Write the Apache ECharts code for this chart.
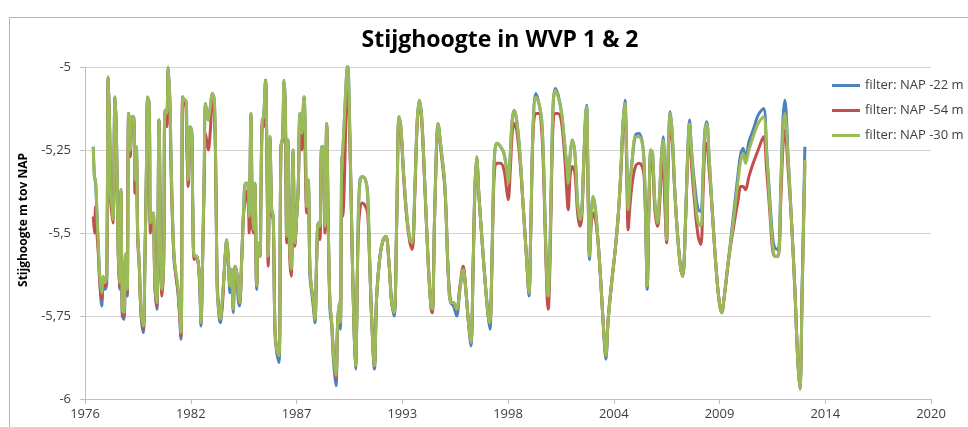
<!DOCTYPE html>
<html>
<head>
<meta charset="utf-8">
<script src="https://cdn.jsdelivr.net/npm/echarts@6/dist/echarts.min.js"></script>
<style>
  html, body { margin: 0; padding: 0; background: #ffffff; }
  #chart { width: 968px; height: 427px; }
</style>
</head>
<body>
<div id="chart"></div>
<script>
// Measurement dates (decimal years), shared by the three filters
const dates = [
  1976.43,1976.49,1976.55,1976.62,1976.69,1976.76,1976.87,1976.95,1977.04,1977.13,
  1977.21,1977.28,1977.33,1977.39,1977.46,1977.56,1977.63,1977.72,1977.79,1977.87,
  1977.94,1978.03,1978.10,1978.17,1978.20,1978.27,1978.36,1978.43,1978.53,1978.60,
  1978.67,1978.74,1978.82,1978.91,1979.03,1979.12,1979.19,1979.26,1979.34,1979.40,
  1979.48,1979.55,1979.64,1979.74,1979.85,1979.93,1980.00,1980.09,1980.16,1980.25,
  1980.33,1980.42,1980.47,1980.54,1980.63,1980.71,1980.85,1980.99,1981.08,1981.16,
  1981.25,1981.30,1981.37,1981.46,1981.55,1981.60,1981.68,1981.79,1981.89,1981.98,
  1982.03,1982.12,1982.20,1982.27,1982.41,1982.52,1982.62,1982.73,1982.81,1982.88,
  1982.97,1983.04,1983.14,1983.25,1983.37,1983.45,1983.54,1983.63,1983.71,1983.80,
  1983.89,1983.97,1984.04,1984.15,1984.25,1984.35,1984.46,1984.54,1984.63,1984.70,
  1984.77,1984.84,1984.93,1985.01,1985.10,1985.15,1985.22,1985.29,1985.39,1985.46,
  1985.53,1985.62,1985.71,1985.79,1985.88,1985.97,1986.09,1986.19,1986.28,1986.35,
  1986.42,1986.49,1986.56,1986.64,1986.73,1986.82,1986.92,1987.01,1987.09,1987.18,
  1987.27,1987.39,1987.46,1987.53,1987.61,1987.70,1987.79,1987.87,1987.96,1988.05,
  1988.13,1988.22,1988.31,1988.39,1988.48,1988.57,1988.65,1988.74,1988.83,1988.93,
  1989.05,1989.14,1989.21,1989.28,1989.35,1989.40,1989.66,1989.78,1989.90,1990.01,
  1990.07,1990.21,1990.30,1990.42,1990.59,1990.70,1990.80,1990.91,1991.05,1991.17,
  1991.34,1991.51,1991.65,1991.81,1991.95,1992.08,1992.21,1992.33,1992.43,1992.57,
  1992.74,1992.90,1993.02,1993.16,1993.28,1993.39,1993.51,1993.68,1993.85,1993.99,
  1994.06,1994.20,1994.37,1994.51,1994.72,1994.89,1995.03,1995.17,1995.33,1995.50,
  1995.67,1995.79,1995.93,1996.07,1996.19,1996.28,1996.37,1996.49,1996.66,1996.83,
  1996.97,1997.06,1997.15,1997.23,1997.32,1997.44,1997.61,1997.79,1997.93,1998.01,
  1998.12,1998.22,1998.32,1998.45,1998.62,1998.79,1998.97,1999.09,1999.19,1999.31,
  1999.45,1999.61,1999.75,1999.85,1999.94,2000.04,2000.09,2000.18,2000.27,2000.35,
  2000.46,2000.61,2000.79,2000.96,2001.06,2001.13,2001.24,2001.34,2001.48,2001.62,
  2001.74,2001.83,2001.93,2002.03,2002.09,2002.17,2002.24,2002.33,2002.43,2002.55,
  2002.69,2002.83,2002.95,2003.09,2003.21,2003.39,2003.56,2003.73,2003.87,2003.98,
  2004.08,2004.17,2004.25,2004.34,2004.46,2004.63,2004.81,2004.98,2005.08,2005.17,
  2005.24,2005.33,2005.43,2005.52,2005.64,2005.78,2005.90,2005.99,2006.07,2006.16,
  2006.25,2006.33,2006.44,2006.54,2006.68,2006.85,2006.99,2007.09,2007.23,2007.34,
  2007.44,2007.55,2007.72,2007.89,2008.03,2008.15,2008.24,2008.34,2008.45,2008.62,
  2008.79,2008.97,2009.11,2009.25,2009.45,2009.71,2009.97,2010.11,2010.23,2010.35,
  2010.53,2010.75,2011.01,2011.29,2011.45,2011.62,2011.76,2011.88,2012.05,2012.19,
  2012.30,2012.40,2012.57,2012.75,2012.92,2013.06,2013.18,2013.30,2013.44
];

// Stijghoogte (m t.o.v. NAP), filter NAP -22 m
const filter22 = [
  -5.24,-5.33,-5.35,-5.44,-5.54,-5.63,-5.72,-5.66,-5.67,-5.65,
  -5.03,-5.18,-5.39,-5.41,-5.46,-5.09,-5.19,-5.53,-5.67,-5.37,
  -5.75,-5.76,-5.57,-5.56,-5.69,-5.14,-5.25,-5.15,-5.15,-5.34,
  -5.24,-5.50,-5.59,-5.74,-5.80,-5.57,-5.33,-5.09,-5.11,-5.47,
  -5.45,-5.44,-5.66,-5.73,-5.16,-5.53,-5.67,-5.59,-5.13,-5.14,
  -5.00,-5.11,-5.26,-5.43,-5.58,-5.62,-5.69,-5.82,-5.09,-5.10,
  -5.10,-5.21,-5.34,-5.18,-5.19,-5.40,-5.57,-5.57,-5.59,-5.68,
  -5.78,-5.57,-5.31,-5.11,-5.16,-5.12,-5.08,-5.10,-5.36,-5.67,
  -5.75,-5.77,-5.71,-5.61,-5.52,-5.57,-5.68,-5.61,-5.74,-5.60,
  -5.62,-5.70,-5.72,-5.58,-5.43,-5.35,-5.35,-5.45,-5.14,-5.42,
  -5.49,-5.35,-5.67,-5.53,-5.57,-5.39,-5.16,-5.15,-5.04,-5.26,
  -5.57,-5.21,-5.43,-5.45,-5.80,-5.86,-5.89,-5.24,-5.21,-5.04,
  -5.12,-5.51,-5.22,-5.53,-5.61,-5.25,-5.53,-5.45,-5.36,-5.14,
  -5.20,-5.09,-5.21,-5.42,-5.34,-5.63,-5.68,-5.72,-5.77,-5.57,
  -5.47,-5.48,-5.24,-5.24,-5.48,-5.17,-5.47,-5.73,-5.78,-5.89,
  -5.96,-5.77,-5.72,-5.79,-5.28,-5.26,-4.995,-5.21,-5.57,-5.82,
  -5.91,-5.46,-5.34,-5.33,-5.34,-5.38,-5.57,-5.76,-5.91,-5.69,
  -5.57,-5.52,-5.51,-5.59,-5.71,-5.75,-5.47,-5.15,-5.18,-5.32,
  -5.45,-5.52,-5.54,-5.36,-5.16,-5.10,-5.15,-5.36,-5.59,-5.72,
  -5.74,-5.41,-5.17,-5.24,-5.36,-5.62,-5.71,-5.72,-5.75,-5.67,
  -5.61,-5.66,-5.76,-5.84,-5.59,-5.36,-5.27,-5.39,-5.53,-5.66,
  -5.75,-5.79,-5.63,-5.39,-5.25,-5.23,-5.24,-5.26,-5.31,-5.34,
  -5.26,-5.16,-5.13,-5.16,-5.26,-5.42,-5.58,-5.69,-5.47,-5.17,
  -5.08,-5.11,-5.16,-5.29,-5.49,-5.67,-5.69,-5.56,-5.29,-5.11,
  -5.065,-5.085,-5.14,-5.24,-5.30,-5.35,-5.26,-5.22,-5.26,-5.41,
  -5.46,-5.44,-5.30,-5.15,-5.115,-5.39,-5.58,-5.45,-5.39,-5.43,
  -5.53,-5.65,-5.77,-5.88,-5.76,-5.65,-5.56,-5.45,-5.31,-5.17,
  -5.10,-5.26,-5.43,-5.36,-5.28,-5.205,-5.20,-5.225,-5.29,-5.49,
  -5.67,-5.42,-5.25,-5.26,-5.41,-5.47,-5.36,-5.26,-5.21,-5.34,
  -5.52,-5.26,-5.135,-5.20,-5.38,-5.53,-5.61,-5.63,-5.47,-5.27,
  -5.16,-5.255,-5.36,-5.43,-5.435,-5.31,-5.19,-5.165,-5.26,-5.43,
  -5.58,-5.70,-5.74,-5.69,-5.59,-5.455,-5.32,-5.26,-5.245,-5.28,
  -5.225,-5.19,-5.145,-5.125,-5.25,-5.40,-5.51,-5.545,-5.55,-5.35,
  -5.16,-5.10,-5.27,-5.47,-5.67,-5.87,-5.97,-5.66,-5.24
];

// Stijghoogte (m t.o.v. NAP), filter NAP -54 m
const filter54 = [
  -5.45,-5.50,-5.42,-5.50,-5.56,-5.64,-5.70,-5.64,-5.66,-5.63,
  -5.03,-5.19,-5.40,-5.44,-5.47,-5.09,-5.20,-5.54,-5.66,-5.38,
  -5.74,-5.75,-5.58,-5.57,-5.68,-5.14,-5.27,-5.16,-5.16,-5.38,
  -5.26,-5.52,-5.60,-5.74,-5.79,-5.57,-5.34,-5.10,-5.12,-5.50,
  -5.47,-5.45,-5.67,-5.72,-5.16,-5.54,-5.69,-5.59,-5.14,-5.18,
  -5.01,-5.13,-5.30,-5.45,-5.57,-5.62,-5.68,-5.81,-5.09,-5.11,
  -5.12,-5.25,-5.36,-5.19,-5.20,-5.41,-5.58,-5.57,-5.59,-5.67,
  -5.77,-5.57,-5.35,-5.20,-5.25,-5.19,-5.10,-5.14,-5.37,-5.66,
  -5.73,-5.76,-5.72,-5.61,-5.53,-5.58,-5.66,-5.62,-5.73,-5.60,
  -5.62,-5.68,-5.71,-5.58,-5.44,-5.40,-5.37,-5.50,-5.15,-5.48,
  -5.50,-5.36,-5.66,-5.54,-5.57,-5.40,-5.17,-5.18,-5.04,-5.28,
  -5.60,-5.22,-5.44,-5.46,-5.79,-5.85,-5.87,-5.24,-5.22,-5.05,
  -5.16,-5.53,-5.23,-5.56,-5.63,-5.26,-5.54,-5.45,-5.37,-5.15,
  -5.25,-5.09,-5.30,-5.44,-5.35,-5.61,-5.67,-5.70,-5.76,-5.58,
  -5.47,-5.52,-5.25,-5.25,-5.50,-5.18,-5.48,-5.71,-5.77,-5.87,
  -5.94,-5.77,-5.74,-5.77,-5.40,-5.45,-5.04,-5.24,-5.57,-5.82,
  -5.90,-5.50,-5.43,-5.41,-5.42,-5.44,-5.58,-5.76,-5.90,-5.69,
  -5.57,-5.52,-5.51,-5.59,-5.71,-5.74,-5.47,-5.16,-5.19,-5.33,
  -5.46,-5.53,-5.55,-5.37,-5.17,-5.11,-5.16,-5.37,-5.59,-5.72,
  -5.74,-5.41,-5.18,-5.25,-5.37,-5.62,-5.71,-5.71,-5.73,-5.66,
  -5.60,-5.66,-5.76,-5.83,-5.59,-5.37,-5.28,-5.39,-5.53,-5.66,
  -5.75,-5.77,-5.63,-5.41,-5.30,-5.29,-5.29,-5.31,-5.37,-5.40,
  -5.31,-5.20,-5.17,-5.19,-5.28,-5.42,-5.58,-5.68,-5.48,-5.19,
  -5.14,-5.14,-5.19,-5.32,-5.51,-5.70,-5.73,-5.60,-5.33,-5.17,
  -5.14,-5.14,-5.17,-5.28,-5.38,-5.43,-5.32,-5.30,-5.32,-5.44,
  -5.48,-5.46,-5.31,-5.17,-5.16,-5.39,-5.56,-5.47,-5.44,-5.46,
  -5.53,-5.65,-5.77,-5.87,-5.76,-5.65,-5.56,-5.45,-5.32,-5.18,
  -5.13,-5.30,-5.49,-5.42,-5.35,-5.30,-5.29,-5.30,-5.33,-5.49,
  -5.66,-5.42,-5.27,-5.29,-5.43,-5.48,-5.40,-5.31,-5.29,-5.42,
  -5.53,-5.29,-5.17,-5.22,-5.38,-5.53,-5.61,-5.63,-5.47,-5.28,
  -5.19,-5.30,-5.42,-5.51,-5.535,-5.37,-5.25,-5.23,-5.30,-5.43,
  -5.58,-5.70,-5.74,-5.69,-5.59,-5.49,-5.40,-5.36,-5.36,-5.37,
  -5.33,-5.29,-5.25,-5.21,-5.31,-5.44,-5.55,-5.57,-5.57,-5.40,
  -5.24,-5.19,-5.31,-5.47,-5.67,-5.87,-5.965,-5.67,-5.29
];

// Stijghoogte (m t.o.v. NAP), filter NAP -30 m
const filter30 = [
  -5.24,-5.33,-5.34,-5.44,-5.53,-5.62,-5.68,-5.63,-5.65,-5.62,
  -5.03,-5.18,-5.39,-5.41,-5.46,-5.09,-5.19,-5.53,-5.65,-5.37,
  -5.73,-5.74,-5.57,-5.56,-5.67,-5.14,-5.25,-5.15,-5.15,-5.34,
  -5.24,-5.50,-5.59,-5.73,-5.78,-5.57,-5.33,-5.09,-5.11,-5.47,
  -5.45,-5.44,-5.66,-5.71,-5.16,-5.53,-5.67,-5.59,-5.13,-5.14,
  -5.00,-5.11,-5.26,-5.43,-5.57,-5.61,-5.67,-5.80,-5.09,-5.10,
  -5.10,-5.21,-5.34,-5.18,-5.19,-5.40,-5.57,-5.57,-5.59,-5.67,
  -5.77,-5.57,-5.31,-5.11,-5.16,-5.12,-5.08,-5.10,-5.36,-5.67,
  -5.74,-5.76,-5.70,-5.61,-5.52,-5.57,-5.66,-5.61,-5.73,-5.60,
  -5.62,-5.67,-5.71,-5.58,-5.43,-5.35,-5.35,-5.45,-5.14,-5.42,
  -5.49,-5.35,-5.66,-5.53,-5.57,-5.39,-5.16,-5.15,-5.04,-5.26,
  -5.57,-5.21,-5.43,-5.45,-5.79,-5.85,-5.87,-5.24,-5.21,-5.04,
  -5.12,-5.51,-5.22,-5.53,-5.61,-5.25,-5.53,-5.45,-5.36,-5.14,
  -5.20,-5.09,-5.21,-5.42,-5.34,-5.61,-5.67,-5.70,-5.76,-5.57,
  -5.47,-5.48,-5.24,-5.24,-5.48,-5.17,-5.47,-5.71,-5.77,-5.87,
  -5.93,-5.77,-5.71,-5.77,-5.28,-5.26,-5.00,-5.21,-5.57,-5.82,
  -5.90,-5.47,-5.35,-5.33,-5.34,-5.39,-5.57,-5.76,-5.90,-5.69,
  -5.57,-5.52,-5.51,-5.59,-5.71,-5.74,-5.47,-5.15,-5.18,-5.32,
  -5.45,-5.52,-5.53,-5.36,-5.16,-5.10,-5.15,-5.36,-5.59,-5.72,
  -5.73,-5.41,-5.17,-5.24,-5.36,-5.62,-5.71,-5.71,-5.73,-5.67,
  -5.61,-5.66,-5.76,-5.83,-5.59,-5.36,-5.27,-5.39,-5.53,-5.66,
  -5.75,-5.77,-5.63,-5.39,-5.25,-5.23,-5.24,-5.26,-5.31,-5.35,
  -5.26,-5.16,-5.13,-5.16,-5.26,-5.42,-5.58,-5.68,-5.47,-5.17,
  -5.09,-5.11,-5.16,-5.29,-5.49,-5.67,-5.69,-5.56,-5.29,-5.11,
  -5.07,-5.09,-5.14,-5.24,-5.30,-5.35,-5.26,-5.22,-5.26,-5.41,
  -5.46,-5.44,-5.30,-5.15,-5.12,-5.39,-5.57,-5.45,-5.39,-5.43,
  -5.53,-5.65,-5.77,-5.87,-5.76,-5.65,-5.56,-5.45,-5.31,-5.17,
  -5.11,-5.26,-5.43,-5.36,-5.28,-5.21,-5.21,-5.23,-5.29,-5.49,
  -5.66,-5.42,-5.25,-5.26,-5.41,-5.47,-5.36,-5.26,-5.22,-5.34,
  -5.52,-5.26,-5.14,-5.20,-5.38,-5.53,-5.61,-5.63,-5.47,-5.27,
  -5.17,-5.26,-5.39,-5.47,-5.48,-5.32,-5.20,-5.17,-5.26,-5.43,
  -5.58,-5.70,-5.74,-5.69,-5.59,-5.47,-5.34,-5.28,-5.26,-5.29,
  -5.25,-5.21,-5.17,-5.15,-5.26,-5.42,-5.53,-5.57,-5.57,-5.36,
  -5.19,-5.14,-5.28,-5.47,-5.67,-5.87,-5.97,-5.67,-5.28
];

// Labels of the time axis ticks, in order
const tickLabels = ['1976', '1982', '1987', '1993', '1998', '2004', '2009', '2014', '2020'];
const seriesNames = ['filter: NAP -22 m', 'filter: NAP -54 m', 'filter: NAP -30 m'];

// Time axis runs in years counted from its first tick
const axisStart = 1976;
const axisStep = 5.5;

const font = "'Open Sans', 'Liberation Sans', sans-serif";
const colors = ['#4F81BD', '#C0504D', '#9BBB59'];

function toPoints(values) {
  return dates.map((d, i) => [d - axisStart, values[i]]);
}

const seriesValues = [filter22, filter54, filter30];

const chart = echarts.init(document.getElementById('chart'), null, { renderer: 'canvas' });

chart.setOption({
  animation: false,
  backgroundColor: '#ffffff',
  textStyle: { fontFamily: font },
  title: {
    text: 'Stijghoogte in WVP 1 & 2',
    left: 495,
    textAlign: 'center',
    top: 24,
    textStyle: { fontFamily: font, fontSize: 23, fontWeight: 'bold', color: '#000000' }
  },
  graphic: [
    {
      // chart area frame
      type: 'rect',
      silent: true,
      z: -10,
      shape: { x: 9.5, y: 17.5, width: 1000, height: 500 },
      style: { fill: null, stroke: '#b4b4b4', lineWidth: 1 }
    },
    {
      // vertical axis title
      type: 'text',
      silent: true,
      x: 24,
      y: 220,
      rotation: Math.PI / 2,
      style: {
        text: 'Stijghoogte m tov NAP',
        fontFamily: font,
        fontSize: 12,
        fontWeight: 'bold',
        fill: '#000000',
        align: 'center',
        verticalAlign: 'middle'
      }
    }
  ],
  legend: {
    orient: 'vertical',
    left: 827,
    top: 74,
    itemWidth: 28,
    itemHeight: 3,
    itemGap: 12,
    icon: 'rect',
    data: seriesNames,
    textStyle: { fontFamily: font, fontSize: 13, color: '#404040' }
  },
  grid: { left: 85, right: 37, top: 67, bottom: 28, containLabel: false },
  xAxis: {
    type: 'value',
    min: 0,
    max: axisStep * (tickLabels.length - 1),
    interval: axisStep,
    axisLine: { show: true, lineStyle: { color: '#bfbfbf', width: 1 } },
    axisTick: { show: true, length: 5, lineStyle: { color: '#bfbfbf' } },
    splitLine: { show: false },
    axisLabel: {
      margin: 9,
      fontFamily: font,
      fontSize: 13,
      color: '#404040',
      formatter: v => tickLabels[Math.round(v / axisStep)]
    }
  },
  yAxis: {
    type: 'value',
    min: -6,
    max: -5,
    interval: 0.25,
    axisLine: { show: true, lineStyle: { color: '#bfbfbf', width: 1 } },
    axisTick: { show: true, length: 5, lineStyle: { color: '#bfbfbf' } },
    splitLine: { show: true, lineStyle: { color: '#d4d4d4', width: 1 } },
    axisLabel: {
      margin: 14,
      fontFamily: font,
      fontSize: 13,
      color: '#404040',
      formatter: v => String(v).replace('.', ',')
    }
  },
  series: seriesNames.map((name, i) => ({
    name: name,
    type: 'line',
    data: toPoints(seriesValues[i]),
    showSymbol: false,
    symbol: 'none',
    smooth: 0.35,
    lineStyle: { width: 3, color: colors[i] },
    itemStyle: { color: colors[i] },
    emphasis: { disabled: true }
  }))
});
</script>
</body>
</html>
